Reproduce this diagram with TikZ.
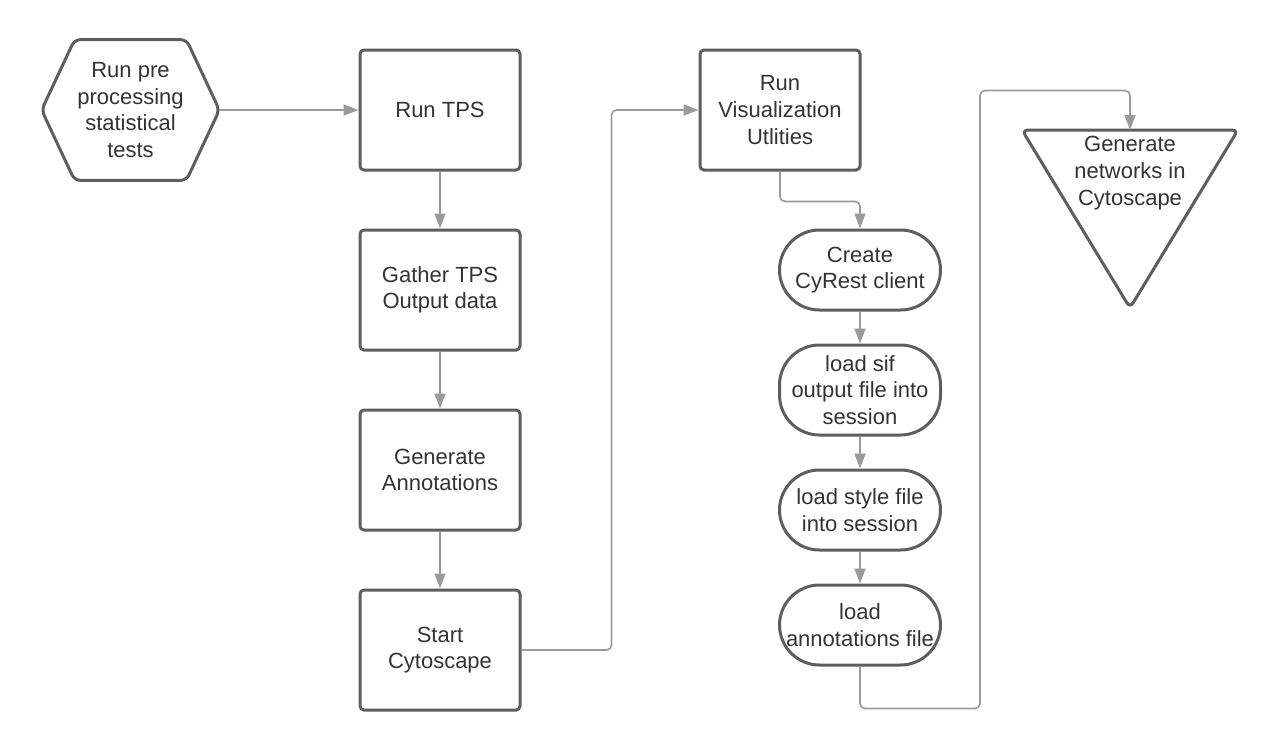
\documentclass[tikz,border=0pt]{standalone}
\usepackage{fontspec}
\setmainfont{Liberation Sans}
\usetikzlibrary{arrows.meta}
\definecolor{boxline}{HTML}{5E5E5E}
\definecolor{linkline}{HTML}{9A9A9A}
\definecolor{textgray}{HTML}{333333}

\begin{document}
\begin{tikzpicture}[x=0.5pt,y=-0.5pt]
		\tikzstyle{every node}+=[inner sep=0pt, text=textgray, align=center, font=\fontsize{11}{13.3}\selectfont]
		\tikzstyle{stepbox}=[draw=boxline, line width=1.5pt, rounded corners=2pt, minimum width=80pt, minimum height=60pt]
		\tikzstyle{pill}=[draw=boxline, line width=1.5pt, rounded corners=20pt, minimum width=80.5pt, minimum height=40pt]
		\tikzstyle{outline}=[draw=boxline, line width=1.5pt, rounded corners=3pt]
		\tikzstyle{link}=[draw=linkline, line width=1pt, -{Triangle[length=7.5pt,width=5.5pt]}]
		\tikzstyle{elbow}=[link, line width=0.8pt, rounded corners=2.5pt]
		\useasboundingbox (0,0) rectangle (1280,750);
		\node [minimum width=88.5pt, minimum height=70pt] (pre) at (130.5,110) {Run pre\\processing\\statistical\\tests};
		\draw [outline] (pre.west) -- ([xshift=16.5pt]pre.north west) -- ([xshift=-16.5pt]pre.north east) -- (pre.east) -- ([xshift=-16.5pt]pre.south east) -- ([xshift=16.5pt]pre.south west) -- cycle;
		\node [stepbox] (tps) at (440,110) {Run TPS};
		\node [stepbox] (gather) at (440,290) {Gather TPS\\Output data};
		\node [stepbox] (annot) at (440,470) {Generate\\Annotations};
		\node [stepbox] (start) at (440,650) {Start\\Cytoscape};
		\node [stepbox] (vis) at (780,110) {Run\\Visualization\\Utlities};
		\node [pill] (cyrest) at (860,270) {Create\\CyRest client};
		\node [pill, minimum height=45pt] (sif) at (860,390) {load sif\\output file into\\session};
		\node [pill] (style) at (860,510) {load style file\\into session};
		\node [pill] (loadann) at (860,625) {load\\annotations file};
		\draw [outline] (1022,130) -- (1238,130) -- (1130,308) -- cycle;
		\coordinate (nettop) at (1130,130);
		\node (net) at (1130,173) {Generate\\networks in\\Cytoscape};
		\draw [link] (pre.east) -- (tps.west);
		\draw [link] (tps.south) -- (gather.north);
		\draw [link] (gather.south) -- (annot.north);
		\draw [link] (annot.south) -- (start.north);
		\draw [elbow] (start.east) -- ++(90,0) |- (vis.west);
		\draw [elbow] (vis.south) -- ++(0,30) -| (cyrest.north);
		\draw [link] (cyrest.south) -- (sif.north);
		\draw [link] (sif.south) -- (style.north);
		\draw [link] (style.south) -- (loadann.north);
		\draw [elbow] (loadann.south) -- ++(0,42) -| ++(120,-618) -| (nettop);
\end{tikzpicture}
\end{document}
